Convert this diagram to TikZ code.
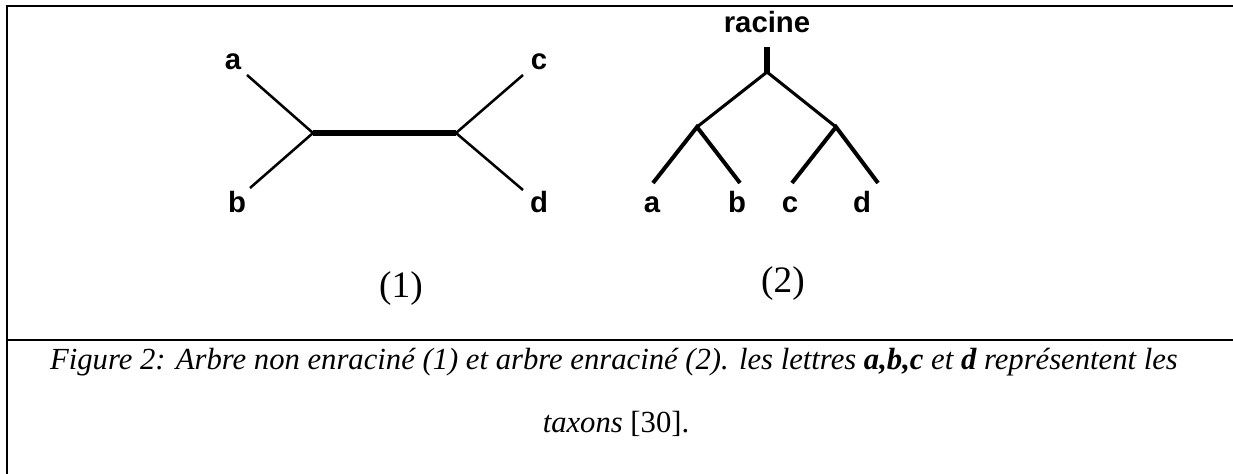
\documentclass[tikz,border=0pt]{standalone}
\usepackage{fontspec}
\setmainfont{Liberation Serif}
\newfontfamily\taxonfont{Liberation Sans}
\usetikzlibrary{positioning}

\tikzstyle{taxon} = [
    inner sep=0pt,
    anchor=base,
    font=\taxonfont\bfseries\fontsize{22}{22}\selectfont
]
\tikzstyle{treeno} = [
    inner sep=0pt,
    anchor=base,
    font=\fontsize{28}{28}\selectfont
]
\tikzstyle{captionline} = [
    inner sep=0pt,
    anchor=base,
    font=\itshape\fontsize{23}{23}\selectfont
]
\tikzstyle{branch} = [line width=1.9pt]
\tikzstyle{inner} = [line width=3.8pt]
\tikzstyle{limb} = [line width=2.3pt]
\tikzstyle{twig} = [line width=3pt]
\tikzstyle{frame} = [line width=1.5pt]

\begin{document}
\begin{tikzpicture}[x=0.75pt, y=-0.75pt]
    \useasboundingbox (0,0) rectangle (1233,474);

    % Frame
    \coordinate (tl) at (7,6);
    \coordinate (tr) at (1233,6);
    \coordinate (bl) at (7,474);
    \coordinate (ml) at (7,340);
    \coordinate (mr) at (1233,340);
    \draw[frame] (tr) -- (tl) -- (bl);
    \draw[frame, line width=1.2pt] (ml) -- (mr);

    % Unrooted tree (1)
    \node[taxon] (a1) at (233,70) {a};
    \node[taxon] (b1) at (237,213) {b};
    \node[taxon] (c1) at (539,70) {c};
    \node[taxon] (d1) at (539,213) {d};
    \coordinate (ta1) at (247,75);
    \coordinate (tb1) at (250,188);
    \coordinate (tc1) at (523,75);
    \coordinate (td1) at (523,190);
    \coordinate (u1) at (313,133);
    \coordinate (u2) at (456,133);
    \draw[branch] (ta1) -- (u1) -- (tb1);
    \draw[branch] (tc1) -- (u2) -- (td1);
    \draw[inner] (u1) -- (u2);
    \node[treeno] (n1) at (401,297) {(1)};

    % Rooted tree (2)
    \node[taxon] (racine) at (767,33) {racine};
    \coordinate (top) at (767,47);
    \coordinate (r) at (767,72);
    \coordinate (ab) at (697,127);
    \coordinate (cd) at (836,127);
    \coordinate (ta2) at (653,183);
    \coordinate (tb2) at (740,183);
    \coordinate (tc2) at (792,183);
    \coordinate (td2) at (878,183);
    \draw[inner] (top) -- (r);
    \draw[limb] (ab) -- (r) -- (cd);
    \draw[twig] (ta2) -- (ab) -- (tb2);
    \draw[twig] (tc2) -- (cd) -- (td2);
    \node[taxon] (a2) at (652,213) {a};
    \node[taxon] (b2) at (737,213) {b};
    \node[taxon] (c2) at (790,213) {c};
    \node[taxon] (d2) at (862,213) {d};
    \node[treeno] (n2) at (783,293) {(2)};

    % Caption
    \node[captionline] (cap1) at (614,369) {Figure 2: Arbre non enraciné (1) et arbre enraciné (2). les lettres \textbf{a,b,c} et \textbf{d} représentent les};
    \node[captionline] (cap2) at (616,432) {taxons \textup{[30].}};
\end{tikzpicture}
\end{document}
